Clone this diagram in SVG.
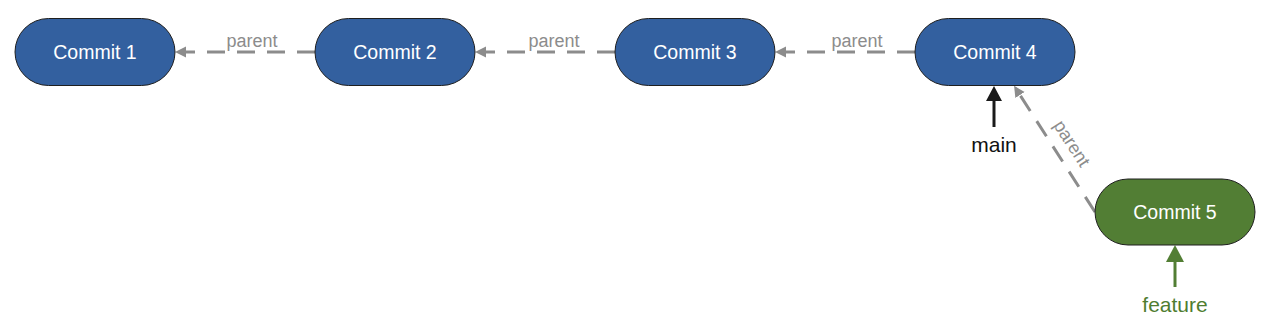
<svg xmlns="http://www.w3.org/2000/svg" width="1276" height="331" viewBox="0 0 1276 331">
<defs>
<style>
.node rect{stroke:#1f1f1f;stroke-width:1}
.blue rect{fill:#33609f}
.green rect{fill:#527e34}
.node text{font-family:"Liberation Sans",Arial,sans-serif;font-size:19.5px;fill:#ffffff;text-anchor:middle}
.edge{stroke:#8c8c8c;stroke-width:3;stroke-dasharray:18 12;fill:none}
.lbl{font-family:"Liberation Sans",Arial,sans-serif;font-size:18px;fill:#8c8c8c;text-anchor:middle}
.ref{font-family:"Liberation Sans",Arial,sans-serif;font-size:21px;text-anchor:middle}
</style>
<marker id="ag" markerUnits="userSpaceOnUse" markerWidth="12" markerHeight="14" refX="0" refY="6" orient="auto" viewBox="0 0 12 12">
<path d="M0,0.5 L11,6 L0,11.5 z" fill="#8c8c8c"/>
</marker>
<marker id="ab" markerUnits="userSpaceOnUse" markerWidth="16" markerHeight="18" refX="0" refY="8" orient="auto" viewBox="0 0 16 16">
<path d="M0,0 L15,8 L0,16 z" fill="#1a1a1a"/>
</marker>
<marker id="agr" markerUnits="userSpaceOnUse" markerWidth="18" markerHeight="20" refX="0" refY="9" orient="auto" viewBox="0 0 18 18">
<path d="M0,0 L17,9 L0,18 z" fill="#527e34"/>
</marker>
</defs>
<g id="connectors">
<line class="edge" x1="315" y1="52" x2="186" y2="52" marker-end="url(#ag)"/>
<line class="edge" x1="615" y1="52" x2="486" y2="52" marker-end="url(#ag)"/>
<line class="edge" x1="915" y1="52" x2="786" y2="52" marker-end="url(#ag)"/>
<line class="edge" x1="1095" y1="212" x2="1020" y2="95" marker-end="url(#ag)"/>
<text class="lbl" x="252" y="46.5">parent</text>
<text class="lbl" x="554" y="46.5">parent</text>
<text class="lbl" x="857" y="46.5">parent</text>
<text class="lbl" transform="translate(1071,144) rotate(57)" x="0" y="5">parent</text>
<line x1="994" y1="127" x2="994" y2="101" stroke="#1a1a1a" stroke-width="3" marker-end="url(#ab)"/>
<line x1="1175" y1="287" x2="1175" y2="262" stroke="#527e34" stroke-width="3" marker-end="url(#agr)"/>
</g>
<g id="commit1" class="node blue"><rect x="15" y="18.5" width="160" height="67" rx="33.5"/><text x="95" y="58.5">Commit 1</text></g>
<g id="commit2" class="node blue"><rect x="315" y="18.5" width="160" height="67" rx="33.5"/><text x="395" y="58.5">Commit 2</text></g>
<g id="commit3" class="node blue"><rect x="615" y="18.5" width="160" height="67" rx="33.5"/><text x="695" y="58.5">Commit 3</text></g>
<g id="commit4" class="node blue"><rect x="915" y="18.5" width="160" height="67" rx="33.5"/><text x="995" y="58.5">Commit 4</text></g>
<g id="commit5" class="node green"><rect x="1095" y="179" width="160" height="66" rx="33"/><text x="1175" y="218.5">Commit 5</text></g>
<g id="main"><text class="ref" x="994" y="151.5" fill="#111111">main</text></g>
<g id="feature"><text class="ref" x="1175" y="311.5" fill="#4f7d30">feature</text></g>
</svg>
